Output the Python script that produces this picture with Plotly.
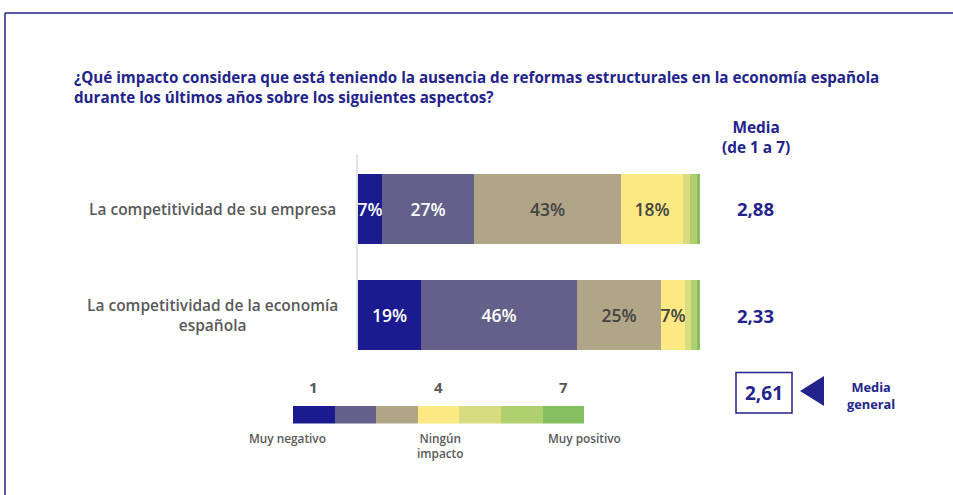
import plotly.graph_objects as go

W, H = 953, 495

# ---------------- data ----------------
title_text = ("¿Qué impacto considera que está teniendo la ausencia de reformas estructurales en la economía española<br>"
              "durante los últimos años sobre los siguientes aspectos?")
categories = ["La competitividad de su empresa", "La competitividad de la economía<br>española"]
scale_levels = ["1", "2", "3", "4", "5", "6", "7"]
# share (%) of each response level 1..7 for each category
empresa_values = [7, 27, 43, 18, 2, 2, 1]
economia_values = [18.5, 45.5, 24.5, 7, 2, 1.5, 1]
empresa_labels = ["7%", "27%", "43%", "18%", "", "", ""]
economia_labels = ["19%", "46%", "25%", "7%", "", "", ""]
medias = ["2,88", "2,33"]
media_general = "2,61"
legend_ticks = ["1", "4", "7"]
legend_tick_pos = [0.5, 3.5, 6.5]
legend_texts = ["Muy negativo", "Ningún<br>impacto", "Muy positivo"]
legend_text_px = [287, 440, 584]

colors = ["#1b1b8f", "#636089", "#b0a587", "#fde983", "#d8dc7f", "#b0cf6e", "#86bf60"]
text_colors = ["#ffffff", "#ffffff", "#444444", "#444444", "#444444", "#444444", "#444444"]
NAVY = "#23238c"
GRAY = "#595959"
FONT = "Open Sans"


def px(x):
    return x / W


def py(y):
    return 1 - y / H


fig = go.Figure()

# main stacked bars (y=1 top, y=0 bottom)
ypos = [1, 0]
for i in range(7):
    vals = [empresa_values[i], economia_values[i]]
    txt = [empresa_labels[i], economia_labels[i]]
    fig.add_trace(go.Bar(
        x=vals, y=ypos, orientation="h", width=0.66,
        marker=dict(color=colors[i], line=dict(width=0)),
        text=txt, textposition="inside", insidetextanchor="middle",
        constraintext="none", textangle=0,
        textfont=dict(family=FONT, size=17.5, color=text_colors[i], weight=600),
        hoverinfo="skip", showlegend=False,
    ))

# legend colour scale
for i in range(7):
    fig.add_trace(go.Bar(
        x=[1], y=[0], orientation="h", width=1,
        marker=dict(color=colors[i], line=dict(width=0)),
        xaxis="x2", yaxis="y2", hoverinfo="skip", showlegend=False,
    ))

fig.update_layout(
    width=W, height=H,
    margin=dict(l=0, r=0, t=0, b=0),
    paper_bgcolor="white", plot_bgcolor="white",
    barmode="stack", bargap=0,
    font=dict(family=FONT),
    xaxis=dict(domain=[px(358), px(700)], range=[0, 100], visible=False, fixedrange=True),
    yaxis=dict(domain=[py(350), py(155)], range=[-0.330, 1.509], showline=True,
               linecolor="#e3e3e3", linewidth=2, showticklabels=False, ticks="",
               showgrid=False, zeroline=False),
    xaxis2=dict(domain=[px(292.7), px(584)], range=[0, 7], visible=False, anchor="y2"),
    yaxis2=dict(domain=[py(423.5), py(405.5)], range=[-0.5, 0.5], visible=False, anchor="x2"),
)

ann = []
# title
ann.append(dict(text=title_text, xref="paper", yref="paper", x=px(72), y=py(65), xanchor="left",
                yanchor="top", align="left", showarrow=False,
                font=dict(family=FONT, size=15.2, color=NAVY, weight=700)))
# category labels
for cat, yv in zip(categories, ypos):
    ann.append(dict(text=cat, xref="paper", yref="y", x=px(212), y=yv, xanchor="center",
                    yanchor="middle", align="center", showarrow=False,
                    font=dict(family=FONT, size=15.5, color=GRAY, weight=600)))
# media header
ann.append(dict(text="Media<br>(de 1 a 7)", xref="paper", yref="paper", x=px(756), y=py(137),
                xanchor="center", yanchor="middle", align="center", showarrow=False,
                font=dict(family=FONT, size=15.4, color=NAVY, weight=700)))
for m, yv in zip(medias, ypos):
    ann.append(dict(text=m, xref="paper", yref="y", x=px(755), y=yv, xanchor="center",
                    yanchor="middle", showarrow=False,
                    font=dict(family=FONT, size=18.5, color=NAVY, weight=700)))
# legend ticks
for t, xv in zip(legend_ticks, legend_tick_pos):
    ann.append(dict(text=t, xref="x2", yref="paper", x=xv, y=py(387), xanchor="center",
                    yanchor="middle", showarrow=False,
                    font=dict(family=FONT, size=15, color=GRAY, weight=700)))
for t, xv in zip(legend_texts, legend_text_px):
    ann.append(dict(text=t, xref="paper", yref="paper", x=px(xv), y=py(428), xanchor="center",
                    yanchor="top", align="center", showarrow=False,
                    font=dict(family=FONT, size=11.8, color=GRAY, weight=600)))
# media general
ann.append(dict(text=media_general, xref="paper", yref="paper", x=px(764), y=py(392.5),
                xanchor="center", yanchor="middle", showarrow=False,
                font=dict(family=FONT, size=19, color=NAVY, weight=700)))
ann.append(dict(text="Media<br>general", xref="paper", yref="paper", x=px(871), y=py(395),
                xanchor="center", yanchor="middle", align="center", showarrow=False,
                font=dict(family=FONT, size=12.8, color=NAVY, weight=700)))
fig.update_layout(annotations=ann)

shapes = []
# frame
shapes.append(dict(type="line", xref="paper", yref="paper", x0=px(5), x1=px(960), y0=py(13), y1=py(13),
                   line=dict(color=NAVY, width=1.5)))
shapes.append(dict(type="line", xref="paper", yref="paper", x0=px(5), x1=px(5), y0=py(13), y1=py(500),
                   line=dict(color=NAVY, width=1.5)))
# box around media general
shapes.append(dict(type="rect", xref="paper", yref="paper", x0=px(736), x1=px(792), y0=py(413), y1=py(372.5),
                   line=dict(color=NAVY, width=1.5), fillcolor="rgba(0,0,0,0)"))
# arrow triangle
shapes.append(dict(type="path", xref="paper", yref="paper",
                   path=f"M {px(800)} {py(391)} L {px(824)} {py(376)} L {px(824)} {py(406)} Z",
                   fillcolor=NAVY, line=dict(width=0)))
fig.update_layout(shapes=shapes)

fig.write_html("out.html", config={"displayModeBar": False},
               post_script="document.body.style.margin='0px';document.body.style.overflow='hidden';")
